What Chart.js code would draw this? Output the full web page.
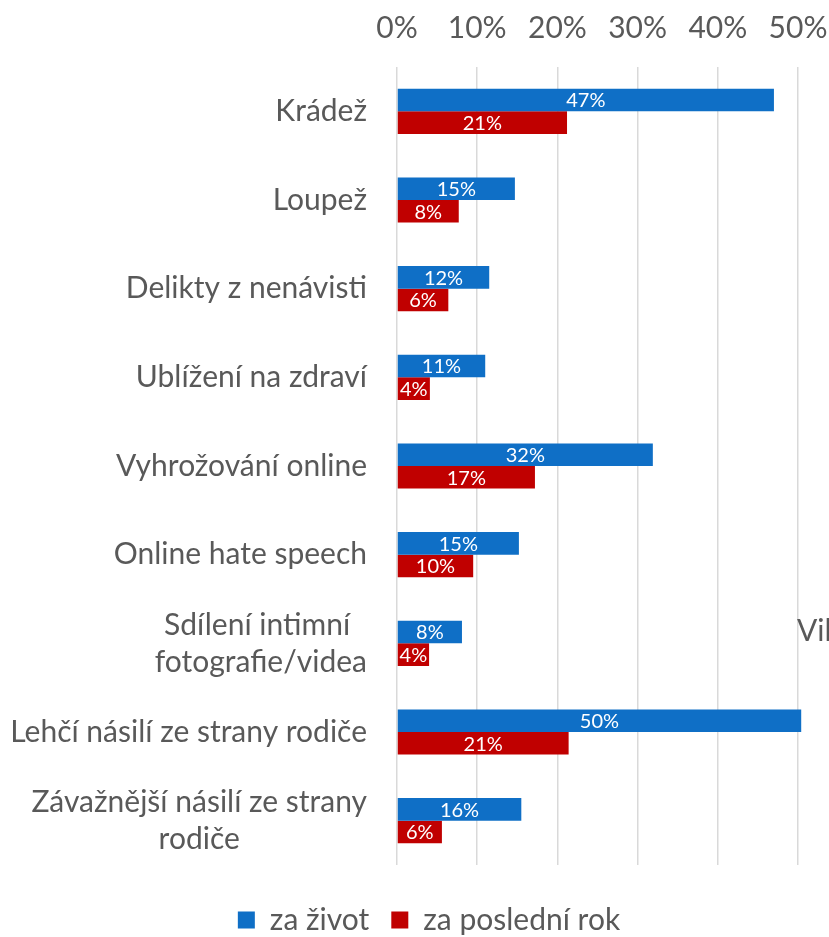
<!DOCTYPE html>
<html>
<head>
<meta charset="utf-8">
<script src="https://cdn.jsdelivr.net/npm/chart.js@4.4.0/dist/chart.umd.min.js"></script>
<style>
  html, body { margin: 0; padding: 0; background: #fff; overflow: hidden; }
  #wrap { position: relative; width: 829px; height: 937px; }
  #vil { position: absolute; left: 797px; top: 611px; font: 30px Lato, sans-serif; color: #595959; white-space: nowrap; }
</style>
</head>
<body>
<div id="wrap">
  <canvas id="chart" width="829" height="937"></canvas>
  <div id="vil">Vil</div>
</div>
<script>
// kategorie (víceřádkové popisky jako pole řádků)
const categories = [
  ['Krádež'],
  ['Loupež'],
  ['Delikty z nenávisti'],
  ['Ublížení na zdraví'],
  ['Vyhrožování online'],
  ['Online hate speech'],
  ['Sdílení intimní ', 'fotografie/videa'],
  ['Lehčí násilí ze strany rodiče'],
  ['Závažnější násilí ze strany', 'rodiče']
];
const seriesNames = ['za život', 'za poslední rok'];
const zaZivot = [47.0, 14.7, 11.5, 11.0, 31.9, 15.2, 8.1, 50.4, 15.5];
const zaPosledniRok = [21.2, 7.7, 6.4, 4.1, 17.2, 9.5, 4.0, 21.4, 5.6];
const xTicks = [0, 10, 20, 30, 40, 50];

const BLUE = '#0f6fc6';
const RED = '#c00000';
const TEXT = '#595959';
const FONT = 'Lato';

Chart.defaults.font.family = FONT;
Chart.defaults.color = TEXT;

// popisky kategorií - vycentrované řádky, zarovnané vpravo k ose
const yLabels = {
  id: 'yLabels',
  afterDraw(chart) {
    const y = chart.scales.y;
    const ctx = chart.ctx;
    ctx.save();
    ctx.font = '30px ' + FONT;
    ctx.fillStyle = TEXT;
    ctx.textAlign = 'center';
    ctx.textBaseline = 'middle';
    categories.forEach((lines, i) => {
      const cy = y.getPixelForTick(i);
      const w = Math.max(...lines.map(l => ctx.measureText(l).width));
      const cx = chart.chartArea.left - 30 - w / 2;
      lines.forEach((l, j) => ctx.fillText(l, cx, cy + (j - (lines.length - 1) / 2) * 37));
    });
    ctx.restore();
  }
};

// hodnoty uvnitř pruhů
const barLabels = {
  id: 'barLabels',
  afterDatasetsDraw(chart) {
    const ctx = chart.ctx;
    ctx.save();
    ctx.font = '20px ' + FONT;
    ctx.fillStyle = '#fff';
    ctx.textAlign = 'center';
    ctx.textBaseline = 'middle';
    chart.data.datasets.forEach((ds, di) => {
      chart.getDatasetMeta(di).data.forEach((bar, i) => {
        const p = bar.getProps(['x', 'y', 'base'], true);
        ctx.fillText(Math.round(ds.data[i]) + '%', (p.x + p.base) / 2, p.y + 1);
      });
    });
    ctx.restore();
  }
};

// umístění legendy (graf je v originále oříznutý)
const legendPlace = {
  id: 'legendPlace',
  afterLayout(chart) {
    const lg = chart.legend;
    const dx = 429 - (lg.left + lg.right) / 2;
    lg.left += dx; lg.right += dx;
    const top = 920 - 15 - lg.options.labels.padding;
    lg.bottom = top + lg.height; lg.top = top;
  }
};

new Chart(document.getElementById('chart'), {
  type: 'bar',
  data: {
    labels: categories.map(c => c.join(' ')),
    datasets: [
      { label: seriesNames[0], data: zaZivot, backgroundColor: BLUE, borderWidth: 0, clip: false },
      { label: seriesNames[1], data: zaPosledniRok, backgroundColor: RED, borderWidth: 0, clip: false }
    ]
  },
  options: {
    indexAxis: 'y',
    responsive: false,
    animation: false,
    layout: { padding: { top: 12, right: 0, bottom: 10, left: 0 } },
    datasets: { bar: { categoryPercentage: 0.51, barPercentage: 1 } },
    scales: {
      x: {
        position: 'top',
        min: xTicks[0],
        max: xTicks[xTicks.length - 1],
        afterBuildTicks: s => { s.ticks = xTicks.map(v => ({ value: v })); },
        afterFit: s => { s.height = 55; s.paddingRight = 31; },
        ticks: { callback: v => v + '%', font: { size: 30 }, color: TEXT, padding: 21 },
        grid: { color: '#d9d9d9', lineWidth: 1.5, drawTicks: false },
        border: { display: false }
      },
      y: {
        afterFit: s => { s.width = 397; },
        ticks: { display: false },
        grid: { display: false },
        border: { display: false }
      }
    },
    plugins: {
      legend: {
        position: 'bottom',
        labels: { boxWidth: 17, boxHeight: 17, font: { size: 30 }, color: TEXT, padding: 22 }
      },
      tooltip: { enabled: false }
    }
  },
  plugins: [yLabels, barLabels, legendPlace]
});
</script>
</body>
</html>
